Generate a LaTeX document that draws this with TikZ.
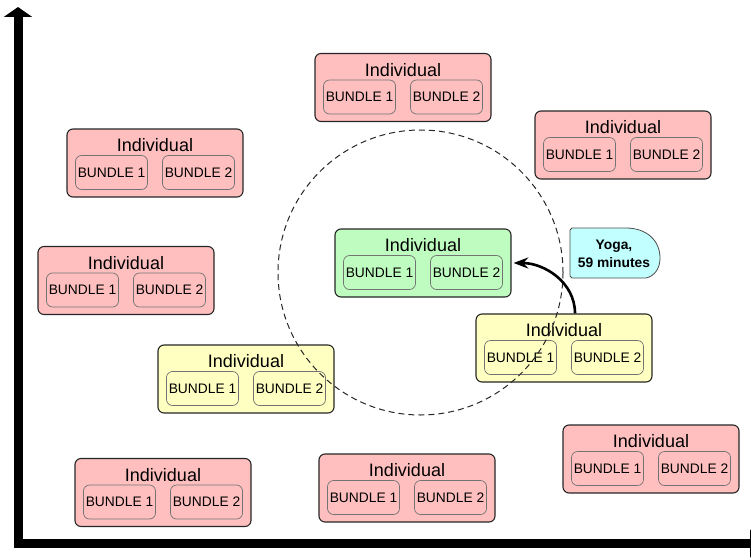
\documentclass[tikz,border=0pt]{standalone}
\usepackage{fontspec}
\setmainfont{Liberation Sans}
\usetikzlibrary{arrows.meta,positioning}

\definecolor{indred}{RGB}{255,191,191}
\definecolor{indgreen}{RGB}{191,252,191}
\definecolor{indyellow}{RGB}{255,255,194}
\definecolor{yogacyan}{RGB}{194,255,255}

\tikzset{
	indiv/.style={draw=black!85, line width=1.1pt, rounded corners=6pt,
		minimum width=176pt, minimum height=68pt, inner sep=0pt},
	indtitle/.style={inner sep=0pt, font=\fontsize{18}{20}\selectfont},
	bundle/.style={draw=black!55, line width=0.7pt, rounded corners=6pt,
		minimum width=72pt, minimum height=34pt, inner sep=0pt,
		font=\fontsize{13.8}{15}\selectfont},
	axis/.style={line width=9pt, line join=miter,
		-{Triangle[width=28pt,length=10pt]}},
	callout/.style={draw=black!70, line width=0.8pt, fill=yogacyan},
}

\begin{document}
\begin{tikzpicture}[x=1pt, y=-1pt, >=Stealth]

	\useasboundingbox (0,0) rectangle (751,559);

	\coordinate (O) at (18,543.5);
	\coordinate (Ytip) at (18,7);
	\coordinate (Xtip) at (760,543.5);
	\coordinate (C) at (420.5,272.5);

	% axes
	\draw[axis] ([xshift=-4.5pt]O) -- (Xtip);
	\draw[axis] ([yshift=-4.5pt]O) -- (Ytip);

	% individuals
	\foreach \n/\x/\y/\col in {1/403/87.5/indred, 2/155/163/indred,
		3/623/145/indred, 4/126/280.5/indred, 5/423/263/indgreen,
		6/564/348/indyellow, 7/246/379/indyellow, 8/651/459/indred,
		9/163/492.5/indred, 10/407/488/indred}
	{
		\node[indiv, fill=\col] (ind\n) at (\x,\y) {};
		\node[indtitle] (ind\n-t) at ([yshift=17.5pt]ind\n.center) {Individual};
		\node[bundle, fill=\col] (ind\n-b1) at ([xshift=-43.5pt,yshift=-9.5pt]ind\n.center) {BUNDLE 1};
		\node[bundle, fill=\col] (ind\n-b2) at ([xshift=43.5pt,yshift=-9.5pt]ind\n.center) {BUNDLE 2};
	}

	% neighbourhood
	\draw[black!85, line width=1pt, dash pattern=on 6pt off 4pt] (C) circle (142.5);

	% move
	\draw[->, line width=2.6pt, shorten >=1pt]
	([xshift=11pt]ind6.north) to[out=90, in=0] ([xshift=1pt]ind5.east);

	% label
	\draw[callout] (570,230) -- (570,276) -- (572,278) -- (646,278)
	.. controls (655,276) and (660,268) .. (660,258)
	.. controls (660,240) and (646,228) .. (626,228) -- (572,228) -- cycle;
	\node[align=center, inner sep=0pt, font=\bfseries\fontsize{13.8}{18}\selectfont]
	(yoga) at (614,254) {Yoga,\\59 minutes};

\end{tikzpicture}
\end{document}
